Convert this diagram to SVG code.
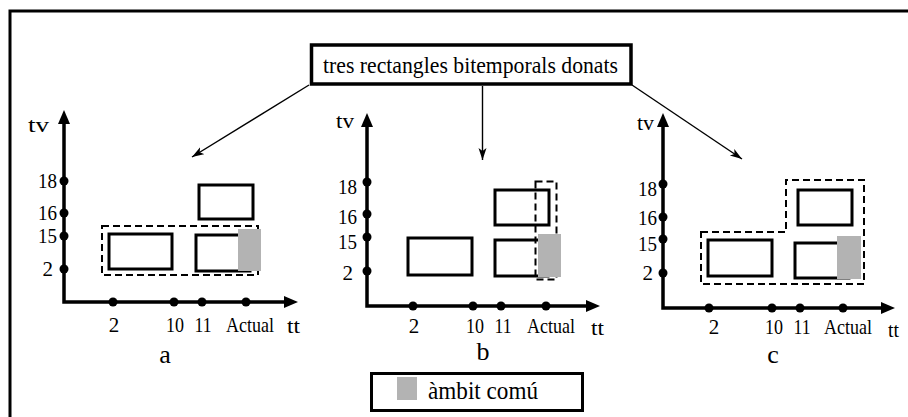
<svg xmlns="http://www.w3.org/2000/svg" width="908" height="417" viewBox="0 0 908 417" font-family="'Liberation Serif', serif">
<style>
text{font-family:'Liberation Serif',serif;fill:#000;font-weight:normal}
.lb{font-size:22px}
.lbe{font-size:21px;text-anchor:end}
.lbm{font-size:21px;text-anchor:middle}
.pl{font-size:26px;text-anchor:middle}
.ax{fill:none;stroke:#000;stroke-width:3.5;stroke-linejoin:miter;marker-start:url(#ah);marker-end:url(#ah)}
.dot{fill:#000}
.box{fill:none;stroke:#000;stroke-width:3}
.gr{fill:#b3b3b3}
.dash{fill:none;stroke:#000;stroke-width:2;stroke-dasharray:7 4}
.con{fill:none;stroke:#000;stroke-width:1.4;marker-end:url(#ca)}
</style>
<defs>
<marker id="ah" markerUnits="userSpaceOnUse" markerWidth="16" markerHeight="14" refX="1" refY="6" orient="auto-start-reverse">
<path d="M0,0 L14,6 L0,12 z" fill="#000"/>
</marker>
<marker id="ca" markerUnits="userSpaceOnUse" markerWidth="14" markerHeight="10" refX="12" refY="4" orient="auto">
<path d="M0,0 L12,4 L0,8 L3,4 z" fill="#000"/>
</marker>
</defs>
<rect width="908" height="417" fill="#fff"/>
<path d="M10,420 V11 H912" fill="none" stroke="#000" stroke-width="3"/>

<g id="title">
<rect x="311.5" y="45" width="319.5" height="39" fill="#fff" stroke="#000" stroke-width="3.5"/>
<text x="470.5" y="73" font-size="24" text-anchor="middle" textLength="295" lengthAdjust="spacingAndGlyphs">tres rectangles bitemporals donats</text>
</g>

<g id="connectors">
<path class="con" d="M309,85 L192,157"/>
<path class="con" d="M482.5,86 L482.5,160"/>
<path class="con" d="M632,85 L742,159"/>
</g>

<g id="panel-a">
<path class="ax" d="M64,123 V302 H285"/>
<circle class="dot" cx="64" cy="181" r="4.5"/>
<circle class="dot" cx="64" cy="213" r="4.5"/>
<circle class="dot" cx="64" cy="236" r="4.5"/>
<circle class="dot" cx="64" cy="269" r="4.5"/>
<circle class="dot" cx="113" cy="302" r="4.5"/>
<circle class="dot" cx="174" cy="302" r="4.5"/>
<circle class="dot" cx="202" cy="302" r="4.5"/>
<circle class="dot" cx="246" cy="302" r="4.5"/>
<text class="lb" x="28" y="132" font-size="24" textLength="21" lengthAdjust="spacingAndGlyphs">tv</text>
<text class="lbe" x="57" y="188" textLength="19" lengthAdjust="spacingAndGlyphs">18</text>
<text class="lbe" x="57" y="220" textLength="19" lengthAdjust="spacingAndGlyphs">16</text>
<text class="lbe" x="57" y="243" textLength="19" lengthAdjust="spacingAndGlyphs">15</text>
<text class="lbe" x="53" y="276">2</text>
<text class="lbm" x="114" y="332">2</text>
<text class="lbm" x="175" y="332" textLength="18" lengthAdjust="spacingAndGlyphs">10</text>
<text class="lbm" x="203" y="332" textLength="17" lengthAdjust="spacingAndGlyphs">11</text>
<text class="lbm" x="250" y="332" textLength="48" lengthAdjust="spacingAndGlyphs">Actual</text>
<text class="lb" x="287" y="333" textLength="13" lengthAdjust="spacingAndGlyphs">tt</text>
<text class="pl" x="165" y="363">a</text>
<rect class="dash" x="102" y="226" width="156" height="49"/>
<rect class="box" x="109" y="234" width="63" height="35"/>
<rect class="box" x="199" y="185" width="54" height="34"/>
<rect class="box" x="196" y="235" width="54" height="36"/>
<rect class="gr" x="238" y="229" width="23" height="42"/>
</g>

<g id="panel-b">
<path class="ax" d="M367,126 V306 H587"/>
<circle class="dot" cx="367" cy="182" r="4.5"/>
<circle class="dot" cx="367" cy="214" r="4.5"/>
<circle class="dot" cx="367" cy="237" r="4.5"/>
<circle class="dot" cx="367" cy="271" r="4.5"/>
<circle class="dot" cx="413" cy="306" r="4.5"/>
<circle class="dot" cx="473" cy="306" r="4.5"/>
<circle class="dot" cx="501" cy="306" r="4.5"/>
<circle class="dot" cx="546" cy="306" r="4.5"/>
<text class="lb" x="336" y="128" font-size="24" textLength="18" lengthAdjust="spacingAndGlyphs">tv</text>
<text class="lbe" x="357" y="194" textLength="19" lengthAdjust="spacingAndGlyphs">18</text>
<text class="lbe" x="357" y="224" textLength="19" lengthAdjust="spacingAndGlyphs">16</text>
<text class="lbe" x="357" y="249" textLength="19" lengthAdjust="spacingAndGlyphs">15</text>
<text class="lbe" x="353" y="280">2</text>
<text class="lbm" x="414" y="333">2</text>
<text class="lbm" x="475" y="333" textLength="18" lengthAdjust="spacingAndGlyphs">10</text>
<text class="lbm" x="503" y="333" textLength="17" lengthAdjust="spacingAndGlyphs">11</text>
<text class="lbm" x="551" y="333" textLength="48" lengthAdjust="spacingAndGlyphs">Actual</text>
<text class="lb" x="591" y="335" textLength="13" lengthAdjust="spacingAndGlyphs">tt</text>
<text class="pl" x="483" y="360">b</text>
<rect class="box" x="408" y="238" width="64" height="37"/>
<rect class="box" x="495" y="190" width="54" height="35"/>
<rect class="box" x="495" y="240" width="53" height="36"/>
<rect class="dash" x="535.5" y="181.5" width="21" height="98"/>
<rect class="gr" x="538" y="234" width="23" height="43"/>
</g>

<g id="panel-c">
<path class="ax" d="M663,126 V308 H882"/>
<circle class="dot" cx="663" cy="184" r="4.5"/>
<circle class="dot" cx="663" cy="217" r="4.5"/>
<circle class="dot" cx="663" cy="239" r="4.5"/>
<circle class="dot" cx="663" cy="273" r="4.5"/>
<circle class="dot" cx="709" cy="308" r="4.5"/>
<circle class="dot" cx="772" cy="308" r="4.5"/>
<circle class="dot" cx="800" cy="308" r="4.5"/>
<circle class="dot" cx="843" cy="308" r="4.5"/>
<text class="lb" x="637" y="130" font-size="24" textLength="17" lengthAdjust="spacingAndGlyphs">tv</text>
<text class="lbe" x="657" y="196" textLength="19" lengthAdjust="spacingAndGlyphs">18</text>
<text class="lbe" x="657" y="225" textLength="19" lengthAdjust="spacingAndGlyphs">16</text>
<text class="lbe" x="657" y="251" textLength="19" lengthAdjust="spacingAndGlyphs">15</text>
<text class="lbe" x="653" y="280">2</text>
<text class="lbm" x="714" y="334">2</text>
<text class="lbm" x="774" y="334" textLength="18" lengthAdjust="spacingAndGlyphs">10</text>
<text class="lbm" x="802" y="334" textLength="17" lengthAdjust="spacingAndGlyphs">11</text>
<text class="lbm" x="848" y="334" textLength="48" lengthAdjust="spacingAndGlyphs">Actual</text>
<text class="lb" x="888" y="337" textLength="11" lengthAdjust="spacingAndGlyphs">tt</text>
<text class="pl" x="773" y="363">c</text>
<path class="dash" d="M701,232 H786 V180 H864 V284 H701 Z"/>
<rect class="box" x="708" y="240" width="64" height="36"/>
<rect class="box" x="798" y="190" width="54" height="35"/>
<rect class="box" x="795" y="243" width="54" height="35"/>
<rect class="gr" x="837" y="236" width="24" height="43"/>
</g>

<g id="legend">
<rect x="371.5" y="373.5" width="211" height="37" fill="#fff" stroke="#000" stroke-width="3"/>
<rect class="gr" x="397" y="377" width="20" height="23"/>
<text x="428" y="399" font-size="26" textLength="110" lengthAdjust="spacingAndGlyphs">àmbit comú</text>
</g>
</svg>
